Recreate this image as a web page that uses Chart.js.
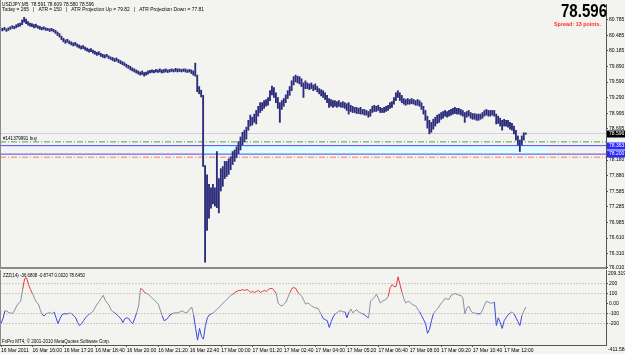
<!DOCTYPE html>
<html>
<head>
<meta charset="utf-8">
<script src="https://cdn.jsdelivr.net/npm/chart.js@4.4.0/dist/chart.umd.min.js"></script>
<style>
html, body { margin: 0; padding: 0; background: #f3f3ef; }
#wrap { position: relative; width: 625px; height: 354px; overflow: hidden; }
canvas { position: absolute; left: 0; }
</style>
</head>
<body>
<div id="wrap">
  <canvas id="priceChart" width="625" height="272" style="top:0"></canvas>
  <canvas id="cciChart" width="625" height="88" style="top:266px"></canvas>
</div>
<script>
// USDJPY M5 bars, one per 5 minutes from 16 Mar 14:40
const barHigh = [
  80.63,80.62,80.64,80.61,80.63,80.65,80.67,80.66,80.69,80.71,
  80.72,80.78,80.83,80.80,80.75,80.72,80.71,80.69,80.70,80.67,
  80.66,80.64,80.65,80.63,80.62,80.61,80.62,80.60,80.58,80.55,
  80.52,80.47,80.43,80.40,80.41,80.38,80.36,80.34,80.35,80.32,
  80.30,80.28,80.29,80.26,80.24,80.22,80.23,80.20,80.18,80.16,
  80.17,80.14,80.12,80.11,80.12,80.09,80.07,80.06,80.04,80.05,
  80.02,80.00,79.98,79.96,79.93,79.91,79.89,79.86,79.84,79.82,
  79.80,79.78,79.80,79.77,79.78,79.80,79.81,79.82,79.81,79.83,
  79.82,79.84,79.82,79.83,79.84,79.82,79.83,79.84,79.83,79.85,
  79.84,79.84,79.83,79.84,79.84,79.82,79.83,79.82,79.80,79.95,
  79.72,79.50,79.43,79.33,77.98,77.80,77.62,77.55,77.62,77.55,
  78.25,77.73,77.92,77.96,78.06,78.06,78.11,78.15,78.25,78.28,
  78.34,78.44,78.53,78.62,78.66,78.72,78.85,78.95,78.91,78.97,
  79.04,79.12,79.19,79.19,79.23,79.25,79.29,79.42,79.51,79.48,
  79.38,79.29,79.19,79.23,79.27,79.34,79.42,79.50,79.61,79.69,
  79.72,79.70,79.69,79.65,79.57,79.61,79.57,79.55,79.57,79.53,
  79.55,79.50,79.46,79.44,79.42,79.38,79.33,79.27,79.25,79.23,
  79.23,79.21,79.23,79.19,79.21,79.19,79.17,79.19,79.14,79.12,
  79.10,79.10,79.08,79.10,79.06,79.06,79.04,79.02,79.06,79.12,
  79.14,79.12,79.14,79.10,79.08,79.10,79.12,79.14,79.19,79.21,
  79.29,79.38,79.42,79.38,79.33,79.27,79.25,79.27,79.25,79.27,
  79.25,79.23,79.25,79.23,79.19,79.12,79.04,78.93,78.85,78.81,
  78.87,78.91,78.95,78.97,79.00,79.02,79.04,79.02,79.04,79.06,
  79.08,79.10,79.08,79.08,79.06,79.04,79.00,79.02,79.04,79.00,
  78.98,78.98,78.97,78.97,78.97,79.00,79.04,79.06,79.04,79.04,
  79.04,79.04,78.97,78.93,78.89,78.85,78.87,78.85,78.85,78.81,
  78.79,78.74,78.66,78.55,78.47,78.55,78.61,78.609
];
const barLow = [
  80.58,80.57,80.59,80.56,80.58,80.60,80.62,80.61,80.63,80.65,
  80.66,80.69,80.74,80.71,80.68,80.66,80.65,80.63,80.64,80.62,
  80.60,80.59,80.60,80.58,80.58,80.56,80.57,80.55,80.52,80.48,
  80.45,80.40,80.36,80.33,80.35,80.32,80.30,80.28,80.29,80.26,
  80.24,80.22,80.23,80.20,80.18,80.16,80.17,80.14,80.12,80.10,
  80.11,80.08,80.06,80.05,80.07,80.04,80.02,80.00,79.98,79.99,
  79.96,79.94,79.92,79.90,79.87,79.85,79.82,79.80,79.78,79.76,
  79.74,79.72,79.73,79.70,79.72,79.74,79.76,79.77,79.76,79.78,
  79.77,79.78,79.76,79.77,79.78,79.77,79.78,79.79,79.78,79.79,
  79.78,79.79,79.78,79.79,79.78,79.77,79.78,79.75,79.72,79.70,
  79.40,79.36,79.30,77.96,76.12,76.73,76.97,77.16,77.24,77.20,
  77.17,77.07,77.49,77.58,77.73,77.77,77.81,77.90,78.00,78.06,
  78.13,78.21,78.28,78.38,78.44,78.49,78.66,78.74,78.76,78.81,
  78.78,78.93,79.00,79.04,79.08,79.12,79.14,79.23,79.34,79.29,
  79.19,79.08,78.81,79.06,79.12,79.19,79.27,79.33,79.42,79.53,
  79.59,79.57,79.55,79.50,79.29,79.46,79.46,79.44,79.46,79.42,
  79.44,79.40,79.36,79.32,79.29,79.25,79.19,79.10,79.12,79.10,
  79.12,79.10,79.12,79.10,79.10,79.08,79.04,78.97,79.02,79.00,
  79.00,78.98,78.98,78.97,78.97,78.95,78.95,78.91,78.93,79.00,
  79.02,79.02,79.04,79.00,79.00,79.00,79.02,79.04,79.08,79.10,
  79.16,79.23,79.29,79.23,79.19,79.16,79.14,79.16,79.16,79.17,
  79.16,79.14,79.14,79.12,79.06,78.97,78.85,78.70,78.59,78.62,
  78.68,78.74,78.79,78.81,78.87,78.89,78.93,78.91,78.93,78.95,
  78.97,78.98,78.97,78.97,78.95,78.93,78.81,78.91,78.93,78.89,
  78.87,78.87,78.85,78.85,78.87,78.89,78.93,78.95,78.93,78.93,
  78.95,78.93,78.78,78.79,78.74,78.66,78.74,78.74,78.72,78.68,
  78.66,78.59,78.47,78.38,78.25,78.38,78.47,78.580
];
// indicator values, one per bar
const cciValues = [
  -200,-151,-73,-73,-93,-93,-98,-63,-24,5,
  24,141,249,259,190,141,102,54,15,-5,
  -63,-112,-122,-102,-93,-93,-102,-83,-142,-200,
  -151,-112,-102,-102,-102,-93,-102,-122,-142,-190,
  -220,-200,-171,-142,-122,-102,-93,-73,-34,-5,
  24,54,83,34,5,-15,-63,-83,-93,-112,
  -132,-151,-190,-151,-142,-151,-181,-200,-151,-93,
  -24,151,141,112,102,93,73,54,34,15,
  -5,-63,-122,-171,-161,-142,-112,-102,-93,-93,
  -93,-83,-73,-83,-93,-83,-54,-34,-112,-249,
  -366,-249,-327,-356,-220,-142,-112,-102,-93,-73,
  -54,-34,-15,5,24,44,63,83,93,112,
  122,132,132,141,132,141,132,112,122,112,
  122,132,112,122,132,122,141,151,151,132,
  102,5,-15,-24,-5,15,63,112,151,161,
  151,112,93,73,34,-5,5,-5,-24,-34,
  -44,-44,-73,-112,-151,-161,-171,-239,-181,-132,
  -102,-93,-73,-73,-83,-83,-142,-83,-54,-93,
  -73,-63,-83,-93,-102,-112,-132,-142,24,44,
  63,93,54,5,24,34,44,73,161,190,
  171,171,268,190,112,44,5,24,15,-5,
  -15,-24,-54,-83,-122,-161,-200,-298,-259,-171,
  -102,-73,-54,-24,5,24,54,44,44,83,
  93,102,93,83,83,54,-102,-44,-24,-73,
  -93,-93,-102,-102,-102,-63,-15,24,15,5,
  5,15,-220,-142,-190,-249,-171,-142,-112,-93,
  -83,-102,-142,-181,-220,-122,-73,-34
];
const cciLevels = [200, 100, -100, -200];
const cciTicks = [200, 100, 0, -100, -200];
const cciTickLabels = ["200", "100", "0.00", "-100", "-200"];

const timeLabels = ["16 Mar 2011","16 Mar 16:00","16 Mar 17:20","16 Mar 18:40","16 Mar 20:00",
  "16 Mar 21:20","16 Mar 22:40","17 Mar 00:00","17 Mar 01:20","17 Mar 02:40","17 Mar 04:00",
  "17 Mar 05:20","17 Mar 06:40","17 Mar 08:00","17 Mar 09:20","17 Mar 10:40","17 Mar 12:00"];
const barsPerLabel = 16;

const priceTickValues = [80.785,80.485,80.185,79.885,79.585,79.285,78.985,78.685,
  78.085,77.785,77.485,77.185,76.885,76.585,76.285,76.012];
const priceTickLabels = ["80.785","80.485","80.185","79.890","79.590","79.290","78.995","78.695",
  "78.180","77.880","77.585","77.285","76.985","76.610","76.310","76.010"];

// horizontal objects on the price chart
const bidPrice = 78.596;
const orderPrice = 78.435;
const stopPrice = 78.14;
const boxTop = 78.363, boxBottom = 78.200;
const boxFromBar = 102.5, boxToBar = 278;
const priceBoxes = [
  { v: 78.596, text: "78.596", bg: "#000000" },
  { v: 78.363, text: "78.363", bg: "#2a2aff" },
  { v: 78.200, text: "78.200", bg: "#2a2aff" }
];

const header1 = "USDJPY,M5  78.591 78.609 78.580 78.596";
const header2 = "Today = 265   |   ATR = 150   |   ATR Projection Up = 79.82   |   ATR Projection Down = 77.81";
const orderLabel = "#141379991 buy";
const cciLabel = "ZZZ(14) -36.6808 -0.8747 0.0020 78.6450";
const copyright = "FxPro MT4, \u00a9 2001-2010 MetaQuotes Software Corp.";

// scale extents
const xMin = -0.25, xMax = 307.8;
const priceMax = 81.088, priceMin = 76.009;
const cciMax = 336.6, cciMin = -414.6;

Chart.defaults.font.family = '"Liberation Sans", Arial, sans-serif';
Chart.defaults.font.size = 5;
Chart.defaults.color = '#000';
Chart.defaults.animation = false;

function hline(v, color, dash, order) {
  return {
    type: 'line',
    data: [{ x: xMin, y: v }, { x: xMax, y: v }],
    borderColor: color, borderWidth: 1, borderDash: dash,
    pointRadius: 0, order: order
  };
}

const priceOverlay = {
  id: 'priceOverlay',
  afterDraw(chart) {
    const ctx = chart.ctx, ys = chart.scales.y, a = chart.chartArea;
    ctx.save();
    // frame
    ctx.strokeStyle = '#8a8a8a';
    ctx.lineWidth = 1;
    ctx.beginPath();
    ctx.moveTo(0.5, 0); ctx.lineTo(0.5, a.bottom);
    ctx.stroke();
    ctx.fillStyle = '#8a8a8a';
    ctx.fillRect(0, a.bottom - 1, a.right, 2);

    ctx.fillStyle = '#000';
    ctx.textBaseline = 'middle';
    ctx.font = '5.5px "Liberation Sans"';
    ctx.fillText(header1, 2, 4.5, 92);
    ctx.fillText(header2, 2, 9.5, 202);
    ctx.fillText(orderLabel, 3, ys.getPixelForValue(orderPrice) - 3, 34);

    ctx.textAlign = 'right';
    ctx.textBaseline = 'alphabetic';
    ctx.font = 'bold 18px "Liberation Sans"';
    ctx.fillText("78.596", 607, 17, 46);
    ctx.fillStyle = '#ff2a2a';
    ctx.font = 'bold 5.5px "Liberation Sans"';
    ctx.textBaseline = 'middle';
    ctx.fillText("Spread: 13 points.", 601, 24.7, 47);

    ctx.textAlign = 'left';
    ctx.font = '5px "Liberation Sans"';
    priceBoxes.forEach(b => {
      const py = ys.getPixelForValue(b.v);
      ctx.fillStyle = b.bg;
      ctx.fillRect(a.right + 1, Math.round(py) - 3.5, 18, 7);
      ctx.fillStyle = '#fff';
      ctx.fillText(b.text, a.right + 3, py);
    });
    ctx.restore();
  }
};

new Chart(document.getElementById('priceChart'), {
  type: 'bar',
  data: {
    datasets: [
      {
        type: 'bar',
        data: barHigh.map((h, i) => ({ x: i, y: [barLow[i], h] })),
        backgroundColor: '#2c2c7c',
        borderWidth: 0,
        barThickness: 1.2,
        order: 0
      },
      hline(bidPrice, '#cfcfe6', [], 1),
      hline(orderPrice, '#45a845', [6, 2, 1, 2], 1),
      hline(boxTop, '#4a4aff', [], 1),
      hline(boxBottom, '#4a4aff', [], 1),
      hline(stopPrice, '#ff7f55', [6, 2, 1, 2], 1),
      {
        type: 'line',
        data: [{ x: boxFromBar, y: boxTop }, { x: boxToBar, y: boxTop }],
        borderWidth: 0, pointRadius: 0, fill: '+1',
        backgroundColor: '#e0ffff', order: 3
      },
      {
        type: 'line',
        data: [{ x: boxFromBar, y: boxBottom }, { x: boxToBar, y: boxBottom }],
        borderWidth: 0, pointRadius: 0, order: 3
      }
    ]
  },
  options: {
    responsive: false,
    layout: { padding: { top: 0, bottom: 4, left: 0, right: 0 } },
    plugins: { legend: { display: false }, tooltip: { enabled: false } },
    scales: {
      x: { type: 'linear', min: xMin, max: xMax, offset: false, display: false },
      y: {
        position: 'right', min: priceMin, max: priceMax,
        afterBuildTicks: s => { s.ticks = priceTickValues.map(v => ({ value: v })); },
        afterFit: s => { s.width = 19; },
        ticks: { callback: (v, i) => priceTickLabels[i], padding: 1, autoSkip: false },
        grid: { drawOnChartArea: false, tickLength: 2, color: '#555' },
        border: { color: '#555' }
      }
    }
  },
  plugins: [priceOverlay]
});

const cciOverlay = {
  id: 'cciOverlay',
  afterDraw(chart) {
    const ctx = chart.ctx, a = chart.chartArea;
    ctx.save();
    ctx.strokeStyle = '#8a8a8a';
    ctx.beginPath();
    ctx.moveTo(0.5, a.top); ctx.lineTo(0.5, a.bottom);
    ctx.stroke();
    ctx.fillStyle = '#000';
    ctx.textBaseline = 'middle';
    ctx.font = '5.5px "Liberation Sans"';
    ctx.fillText(cciLabel, 3, a.top + 5, 82);
    ctx.fillText(copyright, 2, a.bottom - 4, 108);
    ctx.font = '5px "Liberation Sans"';
    ctx.fillText("209.319", a.right + 2, a.top + 4);
    ctx.fillText("-411.584", a.right + 2, a.bottom + 5);
    ctx.restore();
  }
};

const levelSets = cciLevels.map(lv => ({
  type: 'line',
  data: [{ x: xMin, y: lv }, { x: xMax, y: lv }],
  borderColor: Math.abs(lv) === 200 ? '#9a9ac6' : '#c69a9a',
  borderWidth: 1, borderDash: [1, 2], pointRadius: 0, order: 2
}));

new Chart(document.getElementById('cciChart'), {
  type: 'line',
  data: {
    datasets: [
      {
        data: cciValues.map((v, i) => ({ x: i, y: v })),
        borderWidth: 1, pointRadius: 0, tension: 0, order: 0,
        borderColor: '#8391a3',
        segment: {
          borderColor: c => {
            const m = (c.p0.parsed.y + c.p1.parsed.y) / 2;
            if (m > 100) return '#e23a3a';
            if (m < -100) return '#3a46e0';
            return '#8391a3';
          }
        }
      },
      ...levelSets
    ]
  },
  options: {
    responsive: false,
    layout: { padding: { top: 2, bottom: 0, left: 0, right: 0 } },
    plugins: { legend: { display: false }, tooltip: { enabled: false } },
    scales: {
      x: {
        type: 'linear', min: xMin, max: xMax, offset: false,
        afterBuildTicks: s => { s.ticks = timeLabels.map((t, k) => ({ value: k * barsPerLabel })); },
        afterFit: s => { s.height = 9; },
        ticks: { callback: (v, i) => timeLabels[i], align: 'start', maxRotation: 0, autoSkip: false, padding: 1 },
        grid: { drawOnChartArea: false, tickLength: 2, color: '#555' },
        border: { color: '#555' }
      },
      y: {
        position: 'right', min: cciMin, max: cciMax,
        afterBuildTicks: s => { s.ticks = cciTicks.map(v => ({ value: v })); },
        afterFit: s => { s.width = 19; },
        ticks: { callback: (v, i) => cciTickLabels[i], padding: 1, autoSkip: false },
        grid: { drawOnChartArea: false, tickLength: 2, color: '#555' },
        border: { color: '#555' }
      }
    }
  },
  plugins: [cciOverlay]
});
</script>
</body>
</html>
